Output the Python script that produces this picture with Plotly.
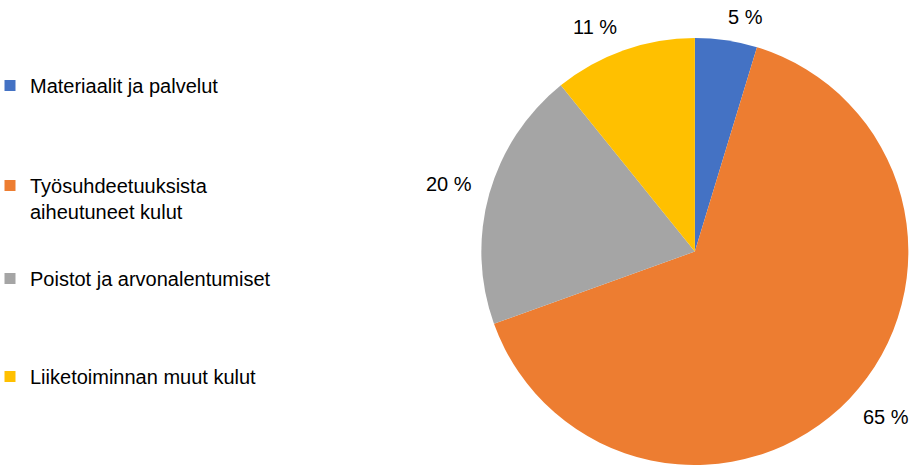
import math
import plotly.graph_objects as go

# Cost breakdown (share of total operating expenses)
categories = [
    "Materiaalit ja palvelut",
    "Työsuhdeetuuksista aiheutuneet kulut",
    "Poistot ja arvonalentumiset",
    "Liiketoiminnan muut kulut",
]
legend_labels = [
    "Materiaalit ja palvelut",
    "Työsuhdeetuuksista<br>aiheutuneet kulut",
    "Poistot ja arvonalentumiset",
    "Liiketoiminnan muut kulut",
]
values = [4.7, 64.8, 19.7, 10.8]
colors = ["#4472C4", "#ED7D31", "#A5A5A5", "#FFC000"]

total = sum(values)
pct_text = [f"{round(v / total * 100)} %" for v in values]

FONT = "Liberation Sans, Arial, sans-serif"
FS = 20
W, H = 924, 465
M = dict(l=0, r=0, t=38, b=0)
plot_w = W - M["l"] - M["r"]
plot_h = H - M["t"] - M["b"]
dom_x = [0.519, 0.985]
dom_y = [0.0, 1.0]

fig = go.Figure()
fig.add_trace(go.Pie(
    labels=categories,
    values=values,
    textinfo="none",
    sort=False,
    direction="clockwise",
    rotation=0,
    marker=dict(colors=colors, line=dict(width=0)),
    domain=dict(x=dom_x, y=dom_y),
    showlegend=False,
    hoverinfo="label+percent",
))

# Percentage labels: offset from a point on the slice's mid-angle ray,
# just outside the rim, towards the side the slice faces
cx = M["l"] + (dom_x[0] + dom_x[1]) / 2 * plot_w
cy = M["t"] + (1 - (dom_y[0] + dom_y[1]) / 2) * plot_h
radius = min((dom_x[1] - dom_x[0]) * plot_w, (dom_y[1] - dom_y[0]) * plot_h) / 2
gap = 19
cum = 0.0
for v, txt in zip(values, pct_text):
    mid = (cum + v / 2) / total * 2 * math.pi
    cum += v
    sx, sy = math.sin(mid), -math.cos(mid)
    half_w = 0.28 * FS * len(txt)
    half_h = 0.25 * FS
    px = cx + sx * (radius + gap) + math.copysign(half_w, sx)
    py = cy + sy * (radius + gap) + math.copysign(half_h, sy)
    fig.add_annotation(
        x=(px - M["l"]) / plot_w, y=(H - M["b"] - py) / plot_h,
        xref="paper", yref="paper", text=txt, showarrow=False,
        xanchor="center", yanchor="middle",
        font=dict(family=FONT, size=FS, color="#000000"),
    )

# Legend entries, each in its own legend so they can be spaced freely
legend_tops = [66, 166, 259, 357]
for i, (lab, col) in enumerate(zip(legend_labels, colors)):
    name = "legend" if i == 0 else f"legend{i + 1}"
    fig.add_trace(go.Scatter(
        x=[None], y=[None], mode="markers", name=lab,
        marker=dict(symbol="square", size=11, color=col),
        legend=name, showlegend=True, hoverinfo="skip",
    ))
    fig.update_layout({name: dict(
        x=0, xanchor="left", xref="paper", indentation=-10,
        y=(H - M["b"] - legend_tops[i]) / plot_h, yanchor="top", yref="paper",
        bgcolor="rgba(0,0,0,0)", borderwidth=0, valign="top",
        font=dict(family=FONT, size=FS, color="#000000"),
    )})

fig.update_layout(
    width=W, height=H,
    margin=M,
    paper_bgcolor="white", plot_bgcolor="white",
    xaxis=dict(visible=False), yaxis=dict(visible=False),
)

fig.write_html("out.html")
